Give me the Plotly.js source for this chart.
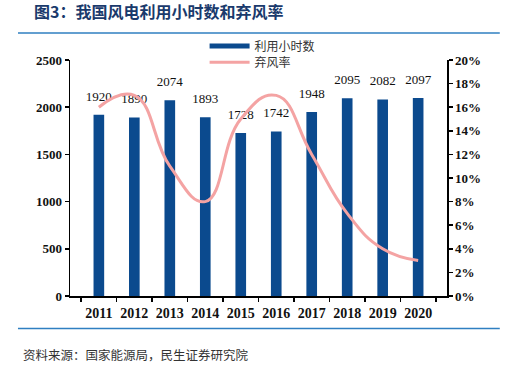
<!DOCTYPE html>
<html><head><meta charset="utf-8">
<script src="https://cdn.plot.ly/plotly-3.0.1.min.js"></script>
<style>html,body{margin:0;padding:0;background:#fff;}#chart{width:509px;height:376px;}</style>
</head><body><div id="chart"></div>
<script>
const years = ['2011','2012','2013','2014','2015','2016','2017','2018','2019','2020'];
const hours = [1920,1890,2074,1893,1728,1742,1948,2095,2082,2097];
const curtailment = [0.16,0.17,0.11,0.08,0.15,0.17,0.12,0.07,0.04,0.03];
const hoursName = '利用小时数';
const rateName = '弃风率';

const serif = 'Liberation Serif, serif';
const cjk = 'Noto Sans CJK SC, sans-serif';
const barColor = '#0b4a8e';
const lineColor = '#f4a3a3';

const traces = [
  {type:'bar', x:years, y:hours, name:hoursName, showlegend:false,
   marker:{color:barColor}, width:0.3},
  {type:'scatter', mode:'lines', x:years, y:curtailment, yaxis:'y2', name:rateName, showlegend:false,
   line:{color:lineColor, width:3, shape:'spline', smoothing:1.3}},
  {type:'scatter', mode:'markers+text', x:years, y:hours, showlegend:false, cliponaxis:false,
   text:hours.map(String), textposition:'top center',
   marker:{size:16, opacity:0},
   textfont:{family:serif, size:13, color:'#111'}},
  {type:'scatter', mode:'lines', x:[null], y:[null], name:hoursName, legend:'legend',
   line:{color:barColor, width:5}},
  {type:'scatter', mode:'lines', x:[null], y:[null], name:rateName, yaxis:'y2', legend:'legend2',
   line:{color:lineColor, width:3}}
];

const legendBase = {xanchor:'left', yanchor:'middle', orientation:'v',
  font:{family:cjk, size:12, color:'#333'}, itemwidth:40, bgcolor:'rgba(0,0,0,0)'};

const layout = {
  width:509, height:376,
  margin:{l:70, r:62, t:60, b:80},
  paper_bgcolor:'#fff', plot_bgcolor:'#fff',
  showlegend:true,
  legend:Object.assign({}, legendBase, {x:0.357, y:1.059}),
  legend2:Object.assign({}, legendBase, {x:0.357, y:0.99}),
  xaxis:{type:'category', categoryorder:'array', categoryarray:years,
    showgrid:false, showline:true, linecolor:'#000', linewidth:1.5,
    ticks:'outside', tickson:'boundaries', ticklen:4, tickcolor:'#000', tickwidth:1.5,
    ticklabelstandoff:4, tickangle:0,
    tickfont:{family:serif, size:14, color:'#111', weight:'bold'}},
  yaxis:{range:[0,2500], dtick:500, showgrid:false, showline:true, linecolor:'#000', linewidth:1.5,
    ticks:'outside', ticklen:4, tickcolor:'#000', tickwidth:1.5, zeroline:false,
    tickfont:{family:serif, size:13, color:'#111', weight:'bold'}},
  yaxis2:{range:[0,0.2], dtick:0.02, tickformat:'.0%', overlaying:'y', side:'right',
    showgrid:false, showline:true, linecolor:'#000', linewidth:1.5, zeroline:false,
    ticks:'outside', ticklen:4, tickcolor:'#000', tickwidth:1.5,
    tickfont:{family:serif, size:13, color:'#111', weight:'bold'}},
  shapes:[
    {type:'line', xref:'paper', yref:'paper', x0:-0.138, x1:1.14, y0:1.114, y1:1.114,
     line:{color:'#2f7fc1', width:1.5}},
    {type:'line', xref:'paper', yref:'paper', x0:-0.138, x1:1.14, y0:-0.138, y1:-0.138,
     line:{color:'#2f7fc1', width:1.5}}
  ],
  annotations:[
    {xref:'paper', yref:'paper', x:-0.1, y:1.148, xanchor:'left', yanchor:'bottom', showarrow:false,
     text:'<b>图3：我国风电利用小时数和弃风率</b>', font:{family:cjk, size:16, color:'#1a3a6c'}},
    {xref:'paper', yref:'paper', x:-0.13, y:-0.2, xanchor:'left', yanchor:'top', showarrow:false,
     text:'资料来源：国家能源局，民生证券研究院', font:{family:cjk, size:12.5, color:'#333'}}
  ]
};

Plotly.newPlot('chart', traces, layout, {staticPlot:true, displayModeBar:false});
</script></body></html>
